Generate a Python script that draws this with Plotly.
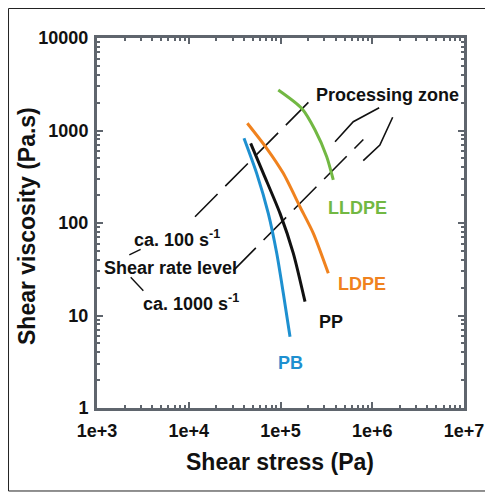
import numpy as np
import plotly.graph_objects as go

# ---- data ----
pb_stress = [40000, 55000, 73600, 91000, 107300, 127000]
pb_visc = [824, 344, 127, 47, 17.4, 5.9]

pp_stress = [47300, 65000, 98800, 138000, 185000]
pp_visc = [727, 344, 127, 47, 14.1]

ldpe_stress = [43500, 70700, 107300, 163000, 228000, 332000]
ldpe_visc = [1197, 642, 344, 150, 77.4, 28.6]

lldpe_stress = [94600, 170000, 238000, 319000, 376000]
lldpe_visc = [2740, 1738, 1012, 521, 292]

# constant shear-rate lines (viscosity = stress / rate)
rate100_stress = [11700, 220000]
rate100_rate = 100
rate1000_stress = [30600, 800000]
rate1000_rate = 1000

# processing-zone bracket strokes (stress, viscosity)
zone_a_stress = [393000, 621000, 1190000]
zone_a_visc = [757, 1245, 1763]
zone_c_stress = [798000, 1210000, 1670000]
zone_c_visc = [472, 697, 1390]

# leader strokes near the "Shear rate level" label
lead1_stress = [2250, 2990]
lead1_visc = [45.1, 52]
lead2_stress = [2330, 3200]
lead2_visc = [25.9, 18.5]

x_tickvals = [1e3, 1e4, 1e5, 1e6, 1e7]
x_ticktext = ["1e+3", "1e+4", "1e+5", "1e+6", "1e+7"]
y_tickvals = [1, 10, 100, 1000, 10000]
y_ticktext = ["1", "10", "100", "1000", "10000"]

x_title = "Shear stress (Pa)"
y_title = "Shear viscosity (Pa.s)"

# text labels: (text, log10 x, log10 y, colour, xanchor)
labels = [
    ("Processing zone", 6.161, 3.384, "#111111", "center"),
    ("LLDPE", 5.839, 2.162, "#72b843", "center"),
    ("LDPE", 5.888, 1.341, "#f0821e", "center"),
    ("PP", 5.545, 0.930, "#111111", "center"),
    ("PB", 5.109, 0.486, "#1e90d0", "center"),
    ("ca. 100 s<sup>-1</sup>", 3.385, 1.835, "#111111", "left"),
    ("Shear rate level", 3.054, 1.514, "#111111", "left"),
    ("ca. 1000 s<sup>-1</sup>", 3.475, 1.140, "#111111", "left"),
]

FONT = "Liberation Sans, Arial, Helvetica, sans-serif"
FRAME = "#5f656d"

fig = go.Figure()


def line(x, y, color, width=3, dash=None, shape="linear"):
    fig.add_trace(go.Scatter(
        x=x, y=y, mode="lines", showlegend=False, hoverinfo="skip",
        line=dict(color=color, width=width, dash=dash, shape=shape,
                  smoothing=0.7 if shape == "spline" else None)))


r100_visc = [s / rate100_rate for s in rate100_stress]
r1000_visc = [s / rate1000_rate for s in rate1000_stress]
line(rate100_stress, r100_visc, "#111111", 1.6, "32px,11px")
line(rate1000_stress, r1000_visc, "#111111", 1.6, "32px,11px")
line(zone_a_stress, zone_a_visc, "#111111", 1.6)
line(zone_c_stress, zone_c_visc, "#111111", 1.6)
line(lead1_stress, lead1_visc, "#111111", 1.4)
line(lead2_stress, lead2_visc, "#111111", 1.4)

line(pb_stress, pb_visc, "#1e90d0", 3, shape="spline")
line(pp_stress, pp_visc, "#111111", 3, shape="spline")
line(ldpe_stress, ldpe_visc, "#f0821e", 3, shape="spline")
line(lldpe_stress, lldpe_visc, "#72b843", 3, shape="spline")

for text, lx, ly, col, anchor in labels:
    fig.add_annotation(x=lx, y=ly, xref="x", yref="y", text=text,
                       showarrow=False, xanchor=anchor, yanchor="middle",
                       font=dict(family=FONT, size=18, color=col, weight="bold"))

# axis titles
title_font = dict(family=FONT, size=23, color="#111111", weight="bold")
fig.add_annotation(x=0.4986, y=-0.1459, xref="paper", yref="paper",
                   text=x_title, showarrow=False, xanchor="center",
                   yanchor="middle", font=title_font)
fig.add_annotation(x=-0.1907, y=0.4919, xref="paper", yref="paper",
                   text=y_title, showarrow=False, xanchor="center",
                   yanchor="middle", textangle=-90, font=title_font)

minor_vals = [d * m for d in [1, 10, 100, 1000, 1e4, 1e5, 1e6] for m in range(2, 10)]

axis_common = dict(
    type="log", showgrid=False, zeroline=False, automargin=False,
    showline=True, linecolor=FRAME, linewidth=3, mirror="ticks",
    ticks="inside", ticklen=6, tickwidth=2, tickcolor=FRAME,
    tickfont=dict(family=FONT, size=18, color="#111111", weight="bold"),
    minor=dict(tickvals=minor_vals, ticks="inside", ticklen=3,
               tickwidth=1.5, tickcolor=FRAME, showgrid=False),
)

fig.update_xaxes(range=[3, 7], tickvals=x_tickvals, ticktext=x_ticktext,
                 ticklabelstandoff=4, **axis_common)
fig.update_yaxes(range=[0, 4], tickvals=y_tickvals, ticktext=y_ticktext,
                 ticklabelstandoff=2, **axis_common)

# outer picture border
fig.add_shape(type="rect", xref="paper", yref="paper",
              x0=-0.2411, x1=1.1, y0=-0.2243, y1=1.0797,
              line=dict(color="#222222", width=1))

# the page body has an 8px margin, so the figure is 8px smaller than the window
fig.update_layout(
    width=485, height=487,
    margin=dict(l=89, r=29, t=30, b=87),
    paper_bgcolor="white", plot_bgcolor="white",
    showlegend=False,
)

fig.write_html("out.html")
